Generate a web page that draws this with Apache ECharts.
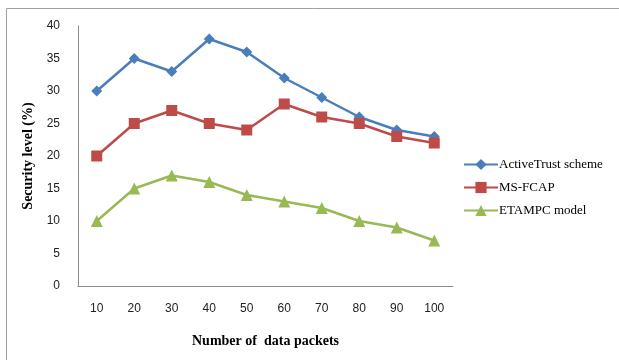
<!DOCTYPE html>
<html>
<head>
<meta charset="utf-8">
<script src="https://cdn.jsdelivr.net/npm/echarts@6/dist/echarts.min.js"></script>
<style>
  html, body { margin: 0; padding: 0; background: #fff; }
  #chart { width: 619px; height: 360px; }
</style>
</head>
<body>
<div id="chart"></div>
<script>
// Number of data packets (x categories)
const packets = ['10', '20', '30', '40', '50', '60', '70', '80', '90', '100'];
// Security level (%) per scheme
const activeTrust = [30, 35, 33, 38, 36, 32, 29, 26, 24, 23];
const msFcap = [20, 25, 27, 25, 24, 28, 26, 25, 23, 22];
const etampc = [10, 15, 17, 16, 14, 13, 12, 10, 9, 7];
const seriesNames = ['ActiveTrust scheme', 'MS-FCAP', 'ETAMPC model'];

const chart = echarts.init(document.getElementById('chart'), null, { renderer: 'canvas' });

const serif = '"Liberation Serif", "DejaVu Serif", serif';
const sans = '"Liberation Sans", Arial, sans-serif';

function line(name, data, color, symbol, size) {
  return {
    name: name,
    type: 'line',
    data: data,
    symbol: symbol,
    symbolSize: size,
    showSymbol: true,
    lineStyle: { color: color, width: 2.5 },
    itemStyle: { color: color },
    animation: false
  };
}

chart.setOption({
  animation: false,
  backgroundColor: '#fff',
  graphic: [{
    type: 'rect',
    shape: { x: 6.5, y: 8.5, width: 700, height: 500 },
    style: { fill: 'none', stroke: '#a0a0a0', lineWidth: 1 },
    silent: true
  }],
  grid: { left: 78, top: 26, right: 166, bottom: 74 },
  legend: {
    orient: 'vertical',
    left: 458,
    top: 153,
    itemGap: 10,
    itemWidth: 34,
    itemHeight: 14,
    textStyle: { fontFamily: serif, fontSize: 13, color: '#000', padding: [0, 0, 0, -4] },
    data: seriesNames
  },
  xAxis: {
    type: 'category',
    data: packets,
    boundaryGap: true,
    name: 'Number of  data packets',
    nameLocation: 'middle',
    nameGap: 48,
    nameTextStyle: { fontFamily: serif, fontWeight: 'bold', fontSize: 14, color: '#000' },
    axisLine: { lineStyle: { color: '#8c8c8c', width: 1 } },
    axisTick: { show: false },
    axisLabel: { fontFamily: sans, fontSize: 12, color: '#222', margin: 17 },
    splitLine: { show: false }
  },
  yAxis: {
    type: 'value',
    min: 0,
    max: 40,
    interval: 5,
    name: 'Security level (%)',
    nameLocation: 'middle',
    nameGap: 39,
    nameRotate: 90,
    nameTextStyle: { fontFamily: serif, fontWeight: 'bold', fontSize: 14, color: '#000' },
    axisLine: { show: true, lineStyle: { color: '#8c8c8c', width: 1 } },
    axisTick: { show: false },
    axisLabel: { fontFamily: sans, fontSize: 12, color: '#222', margin: 18 },
    splitLine: { show: false }
  },
  series: [
    line(seriesNames[0], activeTrust, '#4a7ebb', 'diamond', 11),
    line(seriesNames[1], msFcap, '#be4b48', 'rect', 11),
    line(seriesNames[2], etampc, '#98b954', 'triangle', 12)
  ]
});
</script>
</body>
</html>
